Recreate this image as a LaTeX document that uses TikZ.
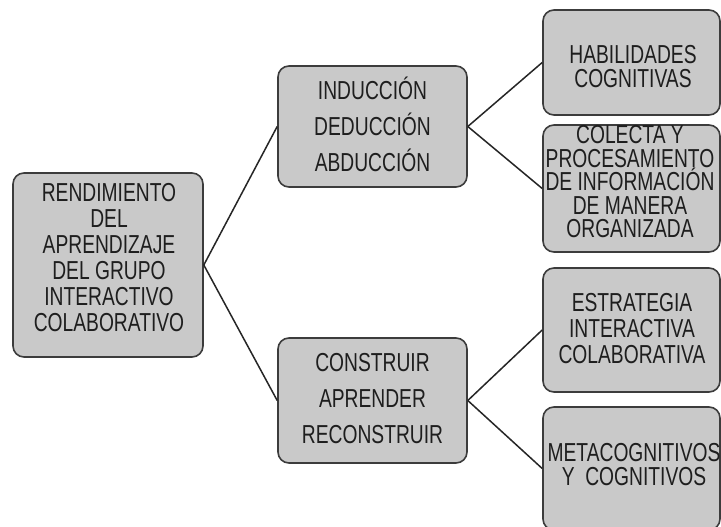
\documentclass[tikz,border=0pt]{standalone}
\usepackage{fontspec}
\setmainfont[FakeStretch=0.74]{Liberation Sans}
\definecolor{boxfill}{RGB}{201,201,201}
\definecolor{boxline}{RGB}{60,60,60}
\definecolor{txtc}{RGB}{30,30,30}
\begin{document}
\begin{tikzpicture}[x=1pt,y=-1pt,
  box/.style={draw=boxline, fill=boxfill, line width=1.6pt, rounded corners=11pt, inner sep=0pt},
  txt/.style={align=center, text=txtc, inner sep=0pt},
  link/.style={line width=1.5pt, draw=black!85}]
\clip (0,0) rectangle (721,527);
\fill[white] (0,0) rectangle (721,527);
% boxes
\node[box, minimum width=190, minimum height=184] (L) at (108,265) {};
\node[box, minimum width=189, minimum height=121] (MT) at (372.5,126.5) {};
\node[box, minimum width=189, minimum height=125] (MB) at (372.5,400.5) {};
\node[box, minimum width=177, minimum height=105] (R1) at (631.5,62.5) {};
\node[box, minimum width=177, minimum height=127] (R2) at (631.5,188.5) {};
\node[box, minimum width=177, minimum height=124] (R3) at (631.5,330) {};
\node[box, minimum width=177, minimum height=123] (R4) at (631.5,468.5) {};
% texts
\node[txt, font=\fontsize{26}{26}\selectfont] (tL) at (109,258) {RENDIMIENTO\\DEL\\APRENDIZAJE\\DEL GRUPO\\INTERACTIVO\\COLABORATIVO};
\node[txt, font=\fontsize{26}{36}\selectfont] (tMT) at (372.5,124) {INDUCCIÓN\\DEDUCCIÓN\\ABDUCCIÓN};
\node[txt, font=\fontsize{26}{36}\selectfont] (tMB) at (372.5,399) {CONSTRUIR\\APRENDER\\RECONSTRUIR};
\node[txt, font=\fontsize{26}{24}\selectfont] (tR1) at (633,67) {HABILIDADES\\COGNITIVAS};
\node[txt, font=\fontsize{26}{23.5}\selectfont] (tR2) at (630,182) {COLECTA Y\\PROCESAMIENTO\\DE INFORMACIÓN\\DE MANERA\\ORGANIZADA};
\node[txt, font=\fontsize{26}{26}\selectfont] (tR3) at (632,329) {ESTRATEGIA\\INTERACTIVA\\COLABORATIVA};
\node[txt, font=\fontsize{26}{24}\selectfont] (tR4) at (634,465) {METACOGNITIVOS\\Y\ \ COGNITIVOS};
% connectors
\draw[link] (L.east) -- (MT.west);
\draw[link] (L.east) -- (MB.west);
\draw[link] (MT.east) -- (R1.west);
\draw[link] (MT.east) -- (R2.west);
\draw[link] (MB.east) -- (R3.west);
\draw[link] (MB.east) -- (R4.west);
\end{tikzpicture}
\end{document}
